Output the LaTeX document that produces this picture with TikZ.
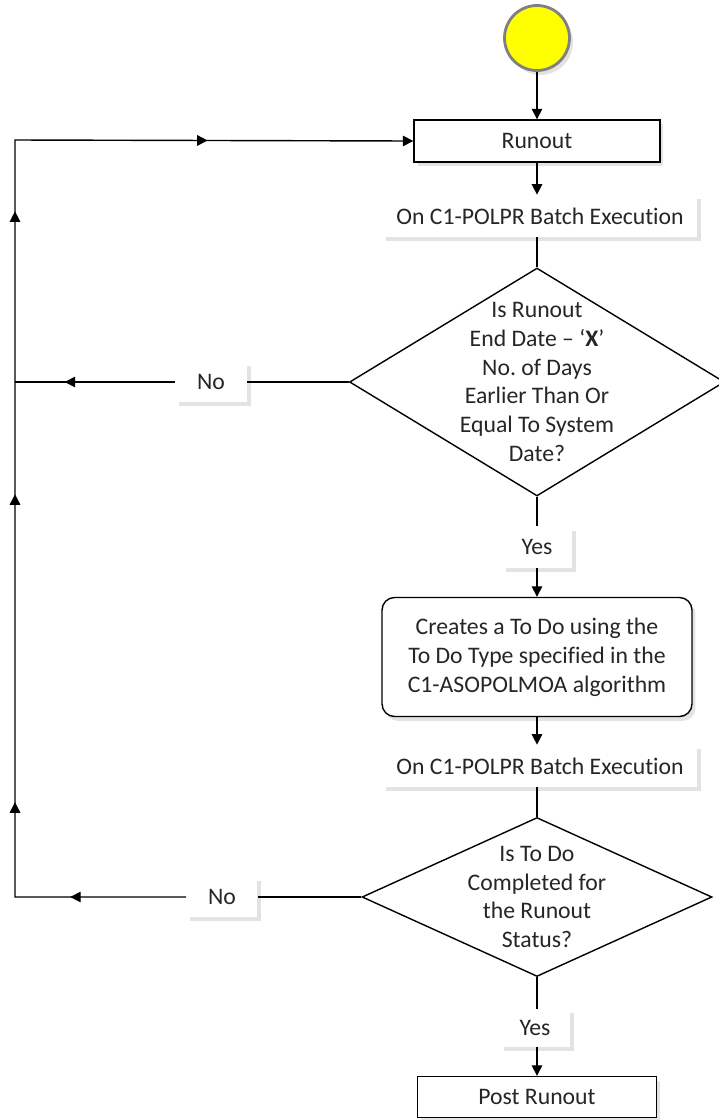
\documentclass[tikz,border=0pt]{standalone}
\usepackage{fontspec}
\setmainfont{Carlito}[Ligatures=NoCommon]
\usetikzlibrary{positioning,arrows.meta,shapes.geometric,shadows,decorations.markings}
\definecolor{startfill}{HTML}{FFFF00}
\definecolor{startrim}{HTML}{808080}
\definecolor{inktext}{HTML}{262626}

\begin{document}
\begin{tikzpicture}[x=0.02cm,y=-0.02cm,
    every node/.style={font=\fontsize{13.5}{16.4}\selectfont,text=inktext},
    >={Triangle[length=6pt,width=6pt]}]
    \tikzstyle{shade}=[drop shadow={shadow xshift=2pt,shadow yshift=-2.5pt,opacity=0.22}];
    \tikzstyle{box}=[draw,line width=0.8pt,fill=white,minimum height=0.84cm,shade];
    \tikzstyle{tag}=[fill=white,minimum height=0.84cm,shade];
    \tikzstyle{decision}=[diamond,draw,line width=0.8pt,fill=white,inner sep=0pt];
    \tikzstyle{flow}=[line width=0.8pt];
    \useasboundingbox (0,0) rectangle (719,1120);

    % main column
    \node[circle,draw=startrim,line width=1.6pt,fill=startfill,minimum size=1.3cm,shade] (start) at (537,38) {};
    \node[box,minimum width=4.92cm] (runout) at (537,141) {Runout};
    \node[tag,minimum width=6.3cm] (exec1) at (540,216) {On C1-POLPR Batch Execution};
    \node[decision,minimum width=7.5cm,minimum height=4.56cm] (q1) at (537,382) {};
    \node[align=center] (q1t) at (q1) {Is Runout\\End Date -- ‘\textbf{X}’\\No.\ of Days\\Earlier Than Or\\Equal To System\\Date?};
    \node[tag,minimum width=1.4cm,minimum height=0.82cm] (yes1) at (537,547) {Yes};
    \node[box,rounded corners=0.25cm,minimum width=6.2cm,minimum height=2.38cm,align=center] (todo) at (537,657)
        {Creates a To Do using the\\To Do Type specified in the\\C1-ASOPOLMOA algorithm};
    \node[tag,minimum width=6.3cm] (exec2) at (540,766) {On C1-POLPR Batch Execution};
    \node[decision,minimum width=7.0cm,minimum height=3.18cm] (q2) at (537,897) {};
    \node[align=center] (q2t) at (q2) {Is To Do\\Completed for\\the Runout\\Status?};
    \node[tag,minimum width=1.4cm,minimum height=0.76cm] (yes2) at (535,1028) {Yes};
    \node[box,minimum width=4.78cm,minimum height=0.82cm] (post) at (537,1097) {Post Runout};

    % "No" branches
    \node[tag,minimum width=1.44cm,minimum height=0.8cm] (no1) at (211,382) {No};
    \node[tag,minimum width=1.42cm,minimum height=0.8cm] (no2) at (222,897) {No};
    \coordinate (c1) at (15,897);
    \coordinate (c2) at (15,382);
    \coordinate (c3) at (15,140);

    \draw[flow,->] (start) -- (runout);
    \draw[flow,->] (runout.south) -- (runout.south |- exec1.north);
    \draw[flow] (exec1.south -| q1.north) -- (q1.north);
    \draw[flow] (q1.south) -- (yes1);
    \draw[flow,->] (yes1) -- (todo);
    \draw[flow,->] (todo) -- (exec2.north -| todo.south);
    \draw[flow] (exec2.south -| q2.north) -- (q2.north);
    \draw[flow] (q2.south) -- (yes2.north -| q2.south);
    \draw[flow,->] (yes2.south -| post.north) -- (post);

    \draw[flow] (q1.west) -- (no1.east);
    \draw[flow,postaction={decorate},decoration={markings,
        mark=at position 2.2cm with {\arrow{>}}}] (no1.west) -- (c2);
    \draw[flow] (q2.west) -- (no2.east);
    \draw[flow,->,postaction={decorate},decoration={markings,
        mark=at position 2.32cm with {\arrow{>}},
        mark=at position 5.32cm with {\arrow{>}},
        mark=at position 11.48cm with {\arrow{>}},
        mark=at position 17.14cm with {\arrow{>}},
        mark=at position 22.42cm with {\arrow{>}}}]
        (no2.west) -- (c1) -- (c3) -- (runout.west);
\end{tikzpicture}
\end{document}
